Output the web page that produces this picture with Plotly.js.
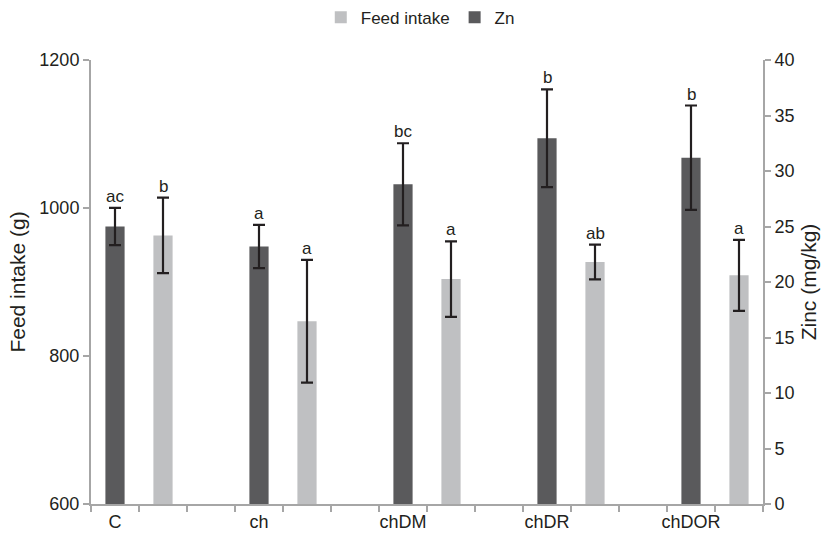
<!DOCTYPE html>
<html>
<head>
<meta charset="utf-8">
<script src="https://cdn.plot.ly/plotly-3.0.1.min.js"></script>
<style>html,body{margin:0;padding:0;background:#fff}#chart{width:828px;height:538px}</style>
</head>
<body>
<div id="chart"></div>
<script>
// Treatments
const groups = ["C", "ch", "chDM", "chDR", "chDOR"];
// Feed intake (g), left axis
const feedIntake = [963, 847, 904, 927, 909];
const feedIntakeErr = [51, 83, 51, 23.5, 48];
const feedIntakeLetters = ["b", "a", "a", "ab", "a"];
// Zinc (mg/kg), right axis
const zinc = [25.0, 23.2, 28.8, 32.95, 31.2];
const zincErr = [1.67, 1.95, 3.7, 4.4, 4.7];
const zincLetters = ["ac", "a", "bc", "b", "b"];

// slot layout: each treatment takes 3 slots (Zn, Feed intake, gap)
const znX = groups.map((g, i) => 3 * i + 1);
const fiX = groups.map((g, i) => 3 * i + 2);

const FONT = "Liberation Sans, Arial, Helvetica, sans-serif";
const AXIS = "#a6a6a6";
const ERR = "#231f20";
const TXT = "#231f20";

const traces = [
  {
    type: "bar", name: "Feed intake", x: fiX, y: feedIntake, yaxis: "y",
    width: 0.4, marker: {color: "#bfc0c2"},
    error_y: {type: "data", array: feedIntakeErr, visible: true, color: ERR, thickness: 2.2, width: 6},
    hoverinfo: "none"
  },
  {
    type: "bar", name: "Zn", x: znX, y: zinc, yaxis: "y2",
    width: 0.4, marker: {color: "#5a5a5c"},
    error_y: {type: "data", array: zincErr, visible: true, color: ERR, thickness: 2.2, width: 6},
    hoverinfo: "none"
  }
];

const annotations = [];
groups.forEach((g, i) => {
  annotations.push({x: fiX[i], y: feedIntake[i] + feedIntakeErr[i], xref: "x", yref: "y",
    text: feedIntakeLetters[i], showarrow: false, yanchor: "bottom", yshift: 0,
    font: {family: FONT, size: 17, color: TXT}});
  annotations.push({x: znX[i], y: zinc[i] + zincErr[i], xref: "x", yref: "y2",
    text: zincLetters[i], showarrow: false, yanchor: "bottom", yshift: 0,
    font: {family: FONT, size: 17, color: TXT}});
});

const layout = {
  width: 828, height: 538,
  margin: {l: 91, r: 65, t: 60, b: 34, pad: 0, autoexpand: false},
  paper_bgcolor: "#ffffff", plot_bgcolor: "#ffffff",
  font: {family: FONT, size: 17, color: TXT},
  barmode: "overlay",
  showlegend: true,
  legend: {orientation: "h", x: 0.49, xanchor: "center", y: 1.095, yanchor: "middle",
    font: {family: FONT, size: 17, color: TXT}, itemwidth: 30, traceorder: "normal"},
  xaxis: {
    range: [0.5, 14.5], tickmode: "array", tickvals: znX, ticktext: groups,
    ticks: "", showline: true, linecolor: AXIS, linewidth: 2, showgrid: false, zeroline: false,
    tickfont: {family: FONT, size: 18, color: TXT},
    minor: {ticks: "outside", tick0: 0.5, dtick: 1, ticklen: 6, tickwidth: 2, tickcolor: AXIS, showgrid: false}
  },
  yaxis: {
    range: [600, 1200], tickmode: "linear", tick0: 600, dtick: 200,
    ticks: "outside", ticklen: 6, tickwidth: 2, tickcolor: AXIS,
    showline: true, linecolor: AXIS, linewidth: 2, showgrid: false, zeroline: false,
    tickfont: {family: FONT, size: 18, color: TXT},
    title: {text: "Feed intake (g)", font: {family: FONT, size: 21, color: TXT}, standoff: 8}
  },
  yaxis2: {
    range: [0, 40], tickmode: "linear", tick0: 0, dtick: 5, overlaying: "y", side: "right",
    ticks: "outside", ticklen: 6, tickwidth: 2, tickcolor: AXIS,
    showline: true, linecolor: AXIS, linewidth: 2, showgrid: false, zeroline: false,
    tickfont: {family: FONT, size: 18, color: TXT},
    title: {text: "Zinc (mg/kg)", font: {family: FONT, size: 21, color: TXT}, standoff: 8}
  },
  annotations: annotations
};

Plotly.newPlot("chart", traces, layout, {displayModeBar: false, staticPlot: true});
</script>
</body>
</html>
